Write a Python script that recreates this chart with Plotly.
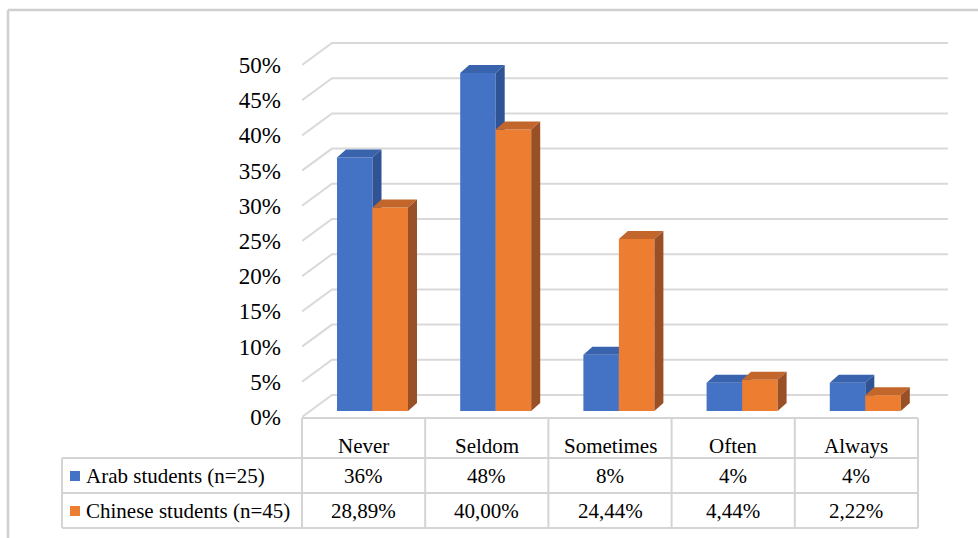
import plotly.graph_objects as go

# ---------------- data ----------------
categories = ["Never", "Seldom", "Sometimes", "Often", "Always"]
series_names = ["Arab students (n=25)", "Chinese students (n=45)"]
arab_values = [36.0, 48.0, 8.0, 4.0, 4.0]
chinese_values = [28.89, 40.00, 24.44, 4.44, 2.22]
arab_labels = ["36%", "48%", "8%", "4%", "4%"]
chinese_labels = ["28,89%", "40,00%", "24,44%", "4,44%", "2,22%"]
tick_values = [0, 5, 10, 15, 20, 25, 30, 35, 40, 45, 50]
tick_labels = [f"{v}%" for v in tick_values]

# ---------------- geometry / style ----------------
W, H = 978, 538
X0_PX = 302          # left of category area (front)
CAT_PX = 123.2       # pixels per category
Y0_PX = 417          # 0% on front plane
UNIT_PX = 7.04       # pixels per 1%

FONT = "Liberation Serif"
GRID = "#d9d9d9"
TABLE_LINE = "#d4d4d4"

front_colors = ["#4472C4", "#ED7D31"]
top_colors = ["#3963AD", "#C2662B"]
side_colors = ["#2F5394", "#9A5027"]

# wall depth (px) and bar depth (px) converted to data units
wall_dx = 30 / CAT_PX
wall_dy = 22 / UNIT_PX
bar_dx = 9 / CAT_PX
bar_dy = 8 / UNIT_PX
bar_base = (Y0_PX - 411) / UNIT_PX
bar_w = 35.5 / CAT_PX
bar_off = 35 / CAT_PX

x_max = (W - X0_PX) / CAT_PX
y_min = (Y0_PX - H) / UNIT_PX
y_max = Y0_PX / UNIT_PX

fig = go.Figure()

# wall gridlines (back horizontal + diagonal side lines)
n_cat = len(categories)
for v in tick_values:
    fig.add_trace(go.Scatter(
        x=[0, wall_dx, n_cat + wall_dx],
        y=[v, v + wall_dy, v + wall_dy],
        mode="lines", line=dict(color=GRID, width=2),
        hoverinfo="skip", showlegend=False))

# 3D bars
series = [arab_values, chinese_values]
for i in range(n_cat):
    for s, vals in enumerate(series):
        v = vals[i]
        x0 = i + bar_off + s * bar_w
        x1 = x0 + bar_w
        b = bar_base
        t = bar_base + v
        # front face
        fig.add_trace(go.Scatter(
            x=[x0, x1, x1, x0, x0], y=[b, b, t, t, b],
            mode="lines", fill="toself", fillcolor=front_colors[s],
            line=dict(width=0, color=front_colors[s]),
            hoverinfo="skip", showlegend=False))
        # top face
        fig.add_trace(go.Scatter(
            x=[x0, x1, x1 + bar_dx, x0 + bar_dx, x0],
            y=[t, t, t + bar_dy, t + bar_dy, t],
            mode="lines", fill="toself", fillcolor=top_colors[s],
            line=dict(width=0, color=top_colors[s]),
            hoverinfo="skip", showlegend=False))
        # side face
        fig.add_trace(go.Scatter(
            x=[x1, x1 + bar_dx, x1 + bar_dx, x1, x1],
            y=[b, b + bar_dy, t + bar_dy, t, b],
            mode="lines", fill="toself", fillcolor=side_colors[s],
            line=dict(width=0, color=side_colors[s]),
            hoverinfo="skip", showlegend=False))


def px(x):
    return x / W


def py(y):
    return 1 - y / H


shapes = []
# outer frame (left and top)
shapes.append(dict(type="line", xref="paper", yref="paper",
                   x0=px(8), x1=px(W + 5), y0=py(10), y1=py(10),
                   line=dict(color="#d0d0d0", width=2.5)))
shapes.append(dict(type="line", xref="paper", yref="paper",
                   x0=px(8), x1=px(8), y0=py(10), y1=py(H + 5),
                   line=dict(color="#d0d0d0", width=2.5)))

# data table grid
T_LEFT, T_RIGHT = 62, X0_PX + n_cat * CAT_PX
row_y = [418, 458, 493, 528]
shapes.append(dict(type="line", xref="paper", yref="paper",
                   x0=px(X0_PX), x1=px(T_RIGHT), y0=py(row_y[0]), y1=py(row_y[0]),
                   line=dict(color=TABLE_LINE, width=2)))
for ry in row_y[1:]:
    shapes.append(dict(type="line", xref="paper", yref="paper",
                       x0=px(T_LEFT), x1=px(T_RIGHT), y0=py(ry), y1=py(ry),
                       line=dict(color=TABLE_LINE, width=2)))
shapes.append(dict(type="line", xref="paper", yref="paper",
                   x0=px(T_LEFT), x1=px(T_LEFT), y0=py(row_y[1]), y1=py(row_y[3]),
                   line=dict(color=TABLE_LINE, width=2)))
for k in range(n_cat + 1):
    cx = X0_PX + k * CAT_PX
    shapes.append(dict(type="line", xref="paper", yref="paper",
                       x0=px(cx), x1=px(cx), y0=py(row_y[0]), y1=py(row_y[3]),
                       line=dict(color=TABLE_LINE, width=2)))

# legend keys
for s, ycen in enumerate([476, 511]):
    shapes.append(dict(type="rect", xref="paper", yref="paper",
                       x0=px(70), x1=px(80), y0=py(ycen - 5), y1=py(ycen + 5),
                       fillcolor=front_colors[s], line=dict(width=0)))

annotations = []
for i, c in enumerate(categories):
    annotations.append(dict(x=i + 0.5, xref="x", y=py(446), yref="paper",
                            text=c, showarrow=False, xanchor="center", yanchor="middle",
                            font=dict(family=FONT, size=21, color="black")))
    annotations.append(dict(x=i + 0.5, xref="x", y=py(476), yref="paper",
                            text=arab_labels[i], showarrow=False, xanchor="center",
                            yanchor="middle", font=dict(family=FONT, size=21, color="black")))
    annotations.append(dict(x=i + 0.5, xref="x", y=py(511), yref="paper",
                            text=chinese_labels[i], showarrow=False, xanchor="center",
                            yanchor="middle", font=dict(family=FONT, size=21, color="black")))
for s, ycen in enumerate([476, 511]):
    annotations.append(dict(x=px(84), xref="paper", y=py(ycen), yref="paper",
                            text=series_names[s], showarrow=False, xanchor="left",
                            yanchor="middle", font=dict(family=FONT, size=21, color="black")))

fig.update_layout(
    width=W, height=H,
    margin=dict(l=0, r=0, t=0, b=0),
    paper_bgcolor="white", plot_bgcolor="white",
    showlegend=False,
    font=dict(family=FONT),
    shapes=shapes,
    annotations=annotations,
    xaxis=dict(domain=[px(X0_PX), 1], range=[0, x_max], visible=False, fixedrange=True),
    yaxis=dict(domain=[0, 1], range=[y_min, y_max], tickvals=tick_values,
               ticktext=tick_labels, showgrid=False, zeroline=False, showline=False,
               ticks="", ticklabelstandoff=20,
               tickfont=dict(family=FONT, size=23, color="black"), fixedrange=True),
)

fig.write_html("out.html")
